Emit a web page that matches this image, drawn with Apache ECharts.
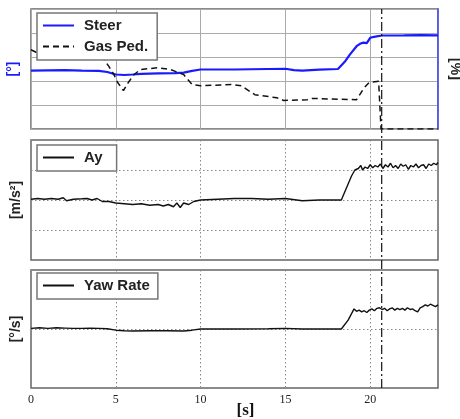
<!DOCTYPE html>
<html>
<head>
<meta charset="utf-8">
<script src="https://cdn.jsdelivr.net/npm/echarts@6/dist/echarts.min.js"></script>
<style>
  html, body { margin: 0; padding: 0; background: #fff; }
  #chart { width: 460px; height: 419px; }
</style>
</head>
<body>
<div id="chart"></div>
<script>
// 时间轴 [s]
var xTicks = [0, 5, 10, 15, 20];
var markerTime = 20.68;

// Steer [°]
var steerT = [0, 1, 2, 3, 4, 4.5, 5, 5.5, 6, 6.5, 7.5, 8.5, 9, 9.5, 10, 12, 14, 15, 15.5, 16, 17, 18.1, 18.5, 18.8, 19.2, 19.4, 19.6, 19.8, 20, 20.3, 20.7, 22, 23, 24];
var steerV = [48.7, 48.9, 49, 48.7, 48.5, 47.5, 45.4, 45, 45.4, 46, 46.4, 46.6, 47, 48.5, 49.6, 49.6, 50, 50.2, 49, 48.7, 49.4, 50, 56, 62, 69, 71, 72, 71.5, 76, 77, 77.9, 78, 78.2, 78];

// Gas Ped. [%]
var gasT = [0, 0.3, 1, 2, 3, 4, 4.3, 4.6, 4.9, 5.1, 5.45, 5.75, 6.05, 6.45, 7.45, 8.2, 9, 9.5, 10, 11.8, 12.4, 13.2, 14.5, 14.9, 16.3, 16.6, 17.7, 19.2, 19.65, 19.95, 20.5, 20.6, 20.64, 24];
var gasV = [66, 64, 62, 62, 62, 61, 58, 52, 45, 39, 32, 39, 45, 49.6, 51, 49.6, 45.4, 37, 36.1, 37, 36, 28.6, 26, 23.8, 24.4, 25.5, 25, 24.4, 34.5, 38.9, 39.7, 39, 0, 0];

// Ay [m/s²]
var ayT = [0, 0.4, 0.8, 1.2, 1.6, 1.9, 2.1, 2.5, 3, 3.3, 3.6, 3.9, 4.2, 4.6, 5, 5.5, 6, 6.5, 7, 7.5, 7.8, 8.1, 8.4, 8.6, 8.8, 9, 9.3, 9.6, 10, 11, 12, 13, 14, 15, 16, 17, 18.3, 18.6, 18.9,
  19.1, 19.3, 19.45, 19.55, 19.7, 19.85, 20, 20.15, 20.3, 20.45, 20.6, 20.75, 20.9, 21.05, 21.2, 21.35, 21.5, 21.65, 21.8, 21.95, 22.1, 22.25, 22.4, 22.55, 22.7, 22.85, 23, 23.15, 23.3, 23.45, 23.6, 23.75, 23.9, 24];
var ayV = [0.05, 0.1, 0.05, 0.1, 0.05, 0.15, -0.05, 0.05, 0.08, 0.1, 0, 0.1, -0.1, -0.1, -0.2, -0.25, -0.3, -0.25, -0.35, -0.3, -0.4, -0.3, -0.45, -0.2, -0.5, -0.2, -0.3, -0.1, 0, 0.05, 0.1, 0.1, 0.05, 0.1, -0.05, 0, 0, 0.8, 1.6,
  2.0, 2.1, 2.3, 2.0, 2.2, 2.1, 2.35, 2.15, 2.3, 2.2, 2.4, 2.1, 2.35, 2.2, 2.45, 2.15, 2.3, 2.1, 2.4, 2.25, 2.35, 2.05, 2.3, 2.2, 2.4, 2.15, 2.3, 2.35, 2.1, 2.4, 2.3, 2.45, 2.35, 2.5];

// Yaw Rate [°/s]
var yawT = [0, 0.5, 1, 1.5, 2, 2.5, 3, 3.5, 4, 4.5, 5, 5.5, 6, 7, 8, 9, 9.5, 10, 12, 14, 15, 16, 18.3, 18.7,
  19.05, 19.2, 19.35, 19.5, 19.65, 19.8, 19.95, 20.1, 20.25, 20.4, 20.55, 20.7, 20.85, 21, 21.15, 21.3, 21.45, 21.6, 21.75, 21.9, 22.05, 22.2, 22.35, 22.5, 22.65, 22.8, 22.95, 23.1, 23.25, 23.4, 23.55, 23.7, 23.85, 24];
var yawV = [0.1, 0.2, 0.1, 0.2, 0.15, 0.1, 0.1, 0.15, 0.1, 0.05, -0.2, -0.3, -0.35, -0.3, -0.3, -0.35, -0.2, 0, 0, 0.05, 0.1, 0, 0, 1.5,
  3.4, 3.0, 3.2, 2.9, 3.1, 2.8, 3.2, 3.4, 3.1, 3.5, 3.6, 3.3, 3.5, 3.1, 3.4, 3.6, 3.2, 3.5, 3.3, 3.5, 3.2, 3.6, 3.3, 3.4, 3.1, 2.9, 3.6, 3.8, 4.1, 3.9, 4.2, 4.0, 3.8, 4.1];

function zip(t, v) {
  return t.map(function (x, i) { return [x, v[i]]; });
}

(function () {
  var chart = echarts.init(document.getElementById('chart'));
  var L = 31, R = 22;
  var frame = '#666';
  var sans = 'Liberation Sans';
  var serif = 'Liberation Serif';

  function gridBox(top, h, show) {
    return { left: L, right: R, top: top, height: h, show: show, borderColor: frame, borderWidth: 1.5,
      containLabel: false, outerBoundsMode: 'none' };
  }

  function xAx(idx, showLabel) {
    return {
      type: 'value', gridIndex: idx, min: 0, max: 24, interval: 5,
      axisLine: { show: false },
      axisTick: { show: false },
      axisLabel: {
        show: showLabel, color: '#222', fontFamily: serif, fontSize: 12, margin: 6,
        showMaxLabel: false,
        formatter: function (v) { return xTicks.indexOf(v) >= 0 ? v : ''; }
      },
      name: showLabel ? '[s]' : '',
      nameLocation: 'middle', nameGap: 14, nameMoveOverlap: false,
      nameTextStyle: { fontFamily: serif, fontSize: 17, fontWeight: 'bold', color: '#111', padding: [0, 0, 0, 22] },
      splitLine: { show: true, lineStyle: { color: idx === 0 ? '#aaa' : '#888', type: idx === 0 ? 'solid' : [1.5, 2.5], width: 1 } }
    };
  }

  function yAx(idx, min, max, interval, name, opts) {
    opts = opts || {};
    return {
      type: 'value', gridIndex: idx, min: min, max: max, interval: interval,
      position: opts.position || 'left',
      axisLine: { show: !!opts.lineColor, lineStyle: { color: opts.lineColor, width: 1.5 } },
      axisTick: { show: false },
      axisLabel: { show: false },
      name: name, nameLocation: 'middle', nameGap: opts.gap,
      nameRotate: opts.rotate,
      nameTextStyle: { fontFamily: sans, fontSize: 14, fontWeight: 'bold', color: opts.nameColor || '#222' },
      splitLine: {
        show: !opts.noSplit,
        lineStyle: { color: idx === 0 ? '#aaa' : '#888', type: idx === 0 ? 'solid' : [1.5, 2.5], width: 1 }
      }
    };
  }

  function legendBox(top, names, padRight) {
    return {
      left: 37, top: top, orient: 'vertical', data: names,
      itemWidth: 31, itemHeight: 14, itemGap: 6,
      padding: [5, padRight, 6, 5],
      backgroundColor: '#fff', borderColor: '#777', borderWidth: 1.5,
      itemStyle: { color: 'rgba(0,0,0,0)', borderColor: 'rgba(0,0,0,0)', borderWidth: 0 },
      textStyle: { fontFamily: sans, fontSize: 15, fontWeight: 'bold', color: '#222', padding: [0, 0, 0, 5] },
      selectedMode: false
    };
  }

  var option = {
    animation: false,
    backgroundColor: '#fff',
    grid: [gridBox(9, 120, true), gridBox(140, 120, true), gridBox(270, 118, true), gridBox(9, 379, false)],
    legend: [
      legendBox(13, ['Steer', 'Gas Ped.'], 9),
      legendBox(145, ['Ay'], 14),
      legendBox(273, ['Yaw Rate'], 8)
    ],
    xAxis: [xAx(0, false), xAx(1, false), xAx(2, true),
      { type: 'value', gridIndex: 3, min: 0, max: 24, show: false }],
    yAxis: [
      yAx(0, 0, 100, 20, '[°]', { gap: 11, nameColor: '#1a1aff' }),
      yAx(0, 0, 100, 20, '[%]', { position: 'right', gap: 10, rotate: -90, lineColor: '#4a4aff', noSplit: true }),
      yAx(1, -4, 4, 2, '[m/s²]', { gap: 8 }),
      yAx(2, -10, 10, 10, '[°/s]', { gap: 8 }),
      { type: 'value', gridIndex: 3, min: 0, max: 1, show: false }
    ],
    series: [
      { name: 'Steer', type: 'line', xAxisIndex: 0, yAxisIndex: 0, data: zip(steerT, steerV),
        symbol: 'none', lineStyle: { color: '#1a1aff', width: 2.2 }, itemStyle: { color: '#1a1aff' } },
      { name: 'Gas Ped.', type: 'line', xAxisIndex: 0, yAxisIndex: 1, data: zip(gasT, gasV),
        symbol: 'none', lineStyle: { color: '#111', width: 1.5, type: [6, 4] }, itemStyle: { color: '#111' } },
      { name: 'Ay', type: 'line', xAxisIndex: 1, yAxisIndex: 2, data: zip(ayT, ayV),
        symbol: 'none', lineStyle: { color: '#111', width: 1.4 }, itemStyle: { color: '#111' } },
      { name: 'Yaw Rate', type: 'line', xAxisIndex: 2, yAxisIndex: 3, data: zip(yawT, yawV),
        symbol: 'none', lineStyle: { color: '#111', width: 1.4 }, itemStyle: { color: '#111' } },
      { name: 'marker', type: 'line', xAxisIndex: 3, yAxisIndex: 4, data: [[markerTime, 0], [markerTime, 1]],
        symbol: 'none', silent: true, lineStyle: { color: '#111', width: 1.2, type: [9, 3, 2, 3] } }
    ]
  };
  chart.setOption(option);
})();
</script>
</body>
</html>
